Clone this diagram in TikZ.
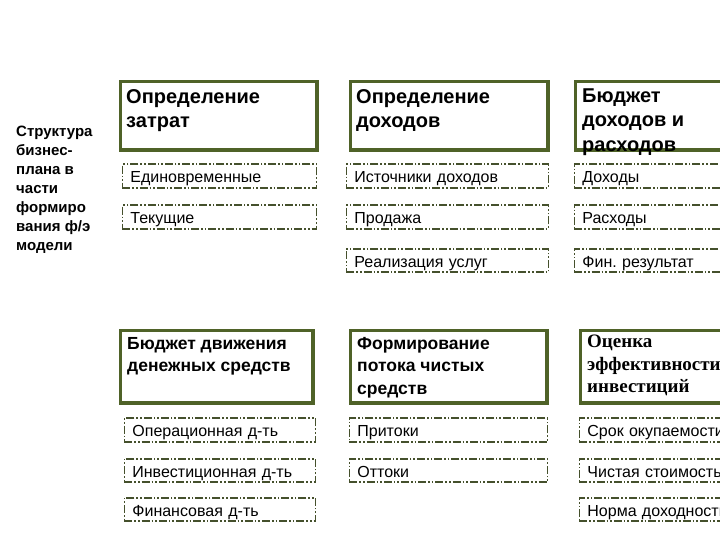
\documentclass[tikz,border=0pt]{standalone}
\usepackage{fontspec}
\setmainfont{Liberation Sans}
\newfontfamily\timesfont{Liberation Serif}
\definecolor{boxolive}{HTML}{4F6228}
\definecolor{dasholive}{HTML}{45502C}
\frenchspacing
\begin{document}
\begin{tikzpicture}[x=1pt,y=-1pt,
  bigbox/.style={draw=boxolive, line width=3.5pt, fill=white, inner sep=0pt, anchor=north west},
  dashbox/.style={draw=dasholive, line width=1.8pt, fill=white,
     dash pattern=on 8pt off 2pt on 1.6pt off 2pt on 1.6pt off 2pt,
     anchor=west, inner xsep=8pt, inner ysep=0pt, align=left,
     minimum height=23.5pt, text height=13.5pt, text depth=0.5pt,
     font=\fontsize{16}{18}\selectfont},
  hdrtop/.style={anchor=north west, inner sep=0pt, align=left,
     font=\fontsize{20}{24.5}\selectfont\bfseries},
  hdrbot/.style={anchor=north west, inner sep=0pt, align=left,
     font=\fontsize{17.5}{22.5}\selectfont\bfseries},
  hdrserif/.style={anchor=north west, inner sep=0pt, align=left,
     font=\timesfont\fontsize{19}{22.5}\selectfont\bfseries},
  sidetext/.style={anchor=north west, inner sep=0pt, align=left,
     font=\fontsize{15}{19}\selectfont\bfseries}
]
\useasboundingbox (0,0) rectangle (720,540);
\clip (0,0) rectangle (720,540);
\fill[white] (0,0) rectangle (720,540);

% left caption
\node[sidetext] (side) at (16,126) {Структура\\бизнес-\\плана в\\части\\формиро\\вания ф/э\\модели};

% top big boxes
\node[bigbox, minimum width=196.5pt, minimum height=68.5pt] (b11) at (118.75,79.75) {};
\node[bigbox, minimum width=197.5pt, minimum height=68.5pt] (b12) at (348.75,79.75) {};
\node[bigbox, minimum width=206pt, minimum height=68.5pt] (b13) at (573.75,79.75) {};
\node[hdrtop] (h11) at (126,89) {Определение\\затрат};
\node[hdrtop] (h12) at (356,89) {Определение\\доходов};
\node[hdrtop] (h13) at (582,88.5) {Бюджет\\доходов и\\расходов};

% top dashed boxes
\node[dashbox, minimum width=194pt, text width=178pt] (d11) at (121.5,176) {Единовременные};
\node[dashbox, minimum width=194pt, text width=178pt] (d12) at (121.5,217) {Текущие};
\node[dashbox, minimum width=202pt, text width=186pt] (d21) at (345.5,176) {Источники доходов};
\node[dashbox, minimum width=202pt, text width=186pt] (d22) at (345.5,217) {Продажа};
\node[dashbox, minimum width=202pt, text width=186pt] (d23) at (345.5,260.5) {Реализация услуг};
\node[dashbox, minimum width=206pt, text width=190pt] (d31) at (573.5,176) {Доходы};
\node[dashbox, minimum width=206pt, text width=190pt] (d32) at (573.5,217) {Расходы};
\node[dashbox, minimum width=206pt, text width=190pt] (d33) at (573.5,260.5) {Фин. результат};

% bottom big boxes
\node[bigbox, minimum width=192.5pt, minimum height=72.5pt] (b21) at (118.75,328.75) {};
\node[bigbox, minimum width=196.5pt, minimum height=72.5pt] (b22) at (348.75,328.75) {};
\node[bigbox, minimum width=202pt, minimum height=72.5pt] (b23) at (578.75,328.75) {};
\node[hdrbot] (h21) at (127,337) {Бюджет движения\\денежных средств};
\node[hdrbot] (h22) at (357,337) {Формирование\\потока чистых\\средств};
\node[hdrserif] (h23) at (587,335) {Оценка\\эффективности\\инвестиций};

% bottom dashed boxes
\node[dashbox, minimum width=191pt, text width=175pt] (e11) at (123.5,430) {Операционная д-ть};
\node[dashbox, minimum width=191pt, text width=175pt] (e12) at (123.5,470.5) {Инвестиционная д-ть};
\node[dashbox, minimum width=191pt, text width=175pt] (e13) at (123.5,509.5) {Финансовая д-ть};
\node[dashbox, minimum width=198pt, text width=182pt] (e21) at (348.5,430) {Притоки};
\node[dashbox, minimum width=198pt, text width=182pt] (e22) at (348.5,470.5) {Оттоки};
\node[dashbox, minimum width=206pt, text width=190pt] (e31) at (578.5,430) {Срок окупаемости};
\node[dashbox, minimum width=206pt, text width=190pt] (e32) at (578.5,470.5) {Чистая стоимость};
\node[dashbox, minimum width=206pt, text width=190pt] (e33) at (578.5,509.5) {Норма доходности};
\end{tikzpicture}
\end{document}
